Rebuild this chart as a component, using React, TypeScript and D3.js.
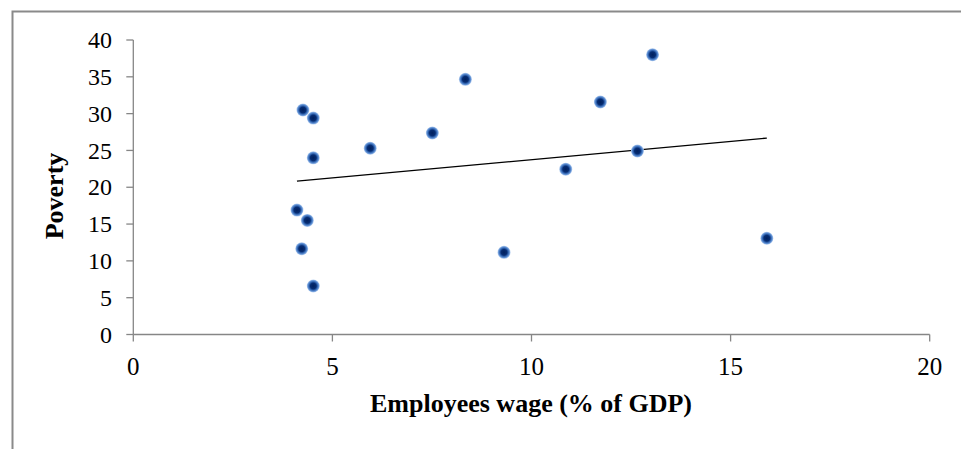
import React from "react";
import * as d3 from "d3";

const wage: number[] = [4.26, 4.52, 4.52, 5.95, 4.11, 4.37, 4.23, 4.52, 8.34, 7.51, 11.73, 13.04, 12.66, 10.86, 9.31, 15.91];
const poverty: number[] = [30.49, 29.4, 24.0, 25.3, 16.9, 15.5, 11.65, 6.59, 34.66, 27.37, 31.58, 38.0, 24.92, 22.45, 11.16, 13.07];
const xTicks: number[] = [0, 5, 10, 15, 20];
const yTicks: number[] = [0, 5, 10, 15, 20, 25, 30, 35, 40];
const xTitle = "Employees wage (% of GDP)";
const yTitle = "Poverty";

export default function App() {
  const W = 961, H = 449;
  const x = d3.scaleLinear().domain([0, 20]).range([133.3, 929.7]);
  const y = d3.scaleLinear().domain([0, 40]).range([334.5, 40]);

  const pts = wage.map((w, i) => ({ w, p: poverty[i] }));
  const mx = d3.mean(wage) as number;
  const my = d3.mean(poverty) as number;
  let sxy = 0, sxx = 0;
  pts.forEach(({ w, p }) => { sxy += (w - mx) * (p - my); sxx += (w - mx) * (w - mx); });
  const slope = sxy / sxx;
  const icpt = my - slope * mx;
  const [x0, x1] = d3.extent(wage) as [number, number];
  const trend = d3.line<number>().x((d) => x(d)).y((d) => y(icpt + slope * d))([x0, x1]) as string;

  const font = "'Liberation Serif', 'Times New Roman', serif";
  const axisColor = "#868686";

  return (
    <svg width={W} height={H} style={{ position: "absolute", left: 0, top: 0, background: "#fff" }}>
      <defs>
        <radialGradient id="mk" cx="50%" cy="50%" r="50%">
          <stop offset="0%" stopColor="#00205e" />
          <stop offset="45%" stopColor="#062c72" />
          <stop offset="62%" stopColor="#2a5ca8" />
          <stop offset="82%" stopColor="#5f90d4" />
          <stop offset="100%" stopColor="#b8d0f0" />
        </radialGradient>
      </defs>
      <rect x={0} y={0} width={W} height={H} fill="#fff" />
      {/* outer frame (top and left visible) */}
      <path d={`M12.5,${H} L12.5,11.5 L${W},11.5`} fill="none" stroke="#8a8a8a" strokeWidth={2} />

      {/* y axis */}
      <line x1={x(0)} x2={x(0)} y1={y(0)} y2={y(40)} stroke={axisColor} strokeWidth={1.3} />
      {yTicks.map((t) => (
        <g key={"y" + t}>
          <line x1={x(0) - 7} x2={x(0)} y1={y(t)} y2={y(t)} stroke={axisColor} strokeWidth={1.3} />
          <text x={112} y={y(t)} dy="0.34em" textAnchor="end" fontFamily={font} fontSize={24} fill="#000">{t}</text>
        </g>
      ))}

      {/* x axis */}
      <line x1={x(0)} x2={x(20)} y1={y(0)} y2={y(0)} stroke={axisColor} strokeWidth={1.3} />
      {xTicks.map((t) => (
        <g key={"x" + t}>
          <line x1={x(t)} x2={x(t)} y1={y(0)} y2={y(0) + 7} stroke={axisColor} strokeWidth={1.3} />
          <text x={x(t)} y={375} textAnchor="middle" fontFamily={font} fontSize={25} fill="#000">{t}</text>
        </g>
      ))}

      {/* titles */}
      <text x={531} y={411.5} textAnchor="middle" fontFamily={font} fontWeight="bold" fontSize={26} fill="#000">{xTitle}</text>
      <text transform={`translate(63,196) rotate(-90)`} textAnchor="middle" fontFamily={font} fontWeight="bold" fontSize={26} fill="#000">{yTitle}</text>

      {/* trend line */}
      <path d={trend} fill="none" stroke="#000" strokeWidth={1.3} />

      {/* points */}
      {pts.map((d, i) => (
        <circle key={i} cx={x(d.w)} cy={y(d.p)} r={6.5} fill="url(#mk)" />
      ))}
    </svg>
  );
}
